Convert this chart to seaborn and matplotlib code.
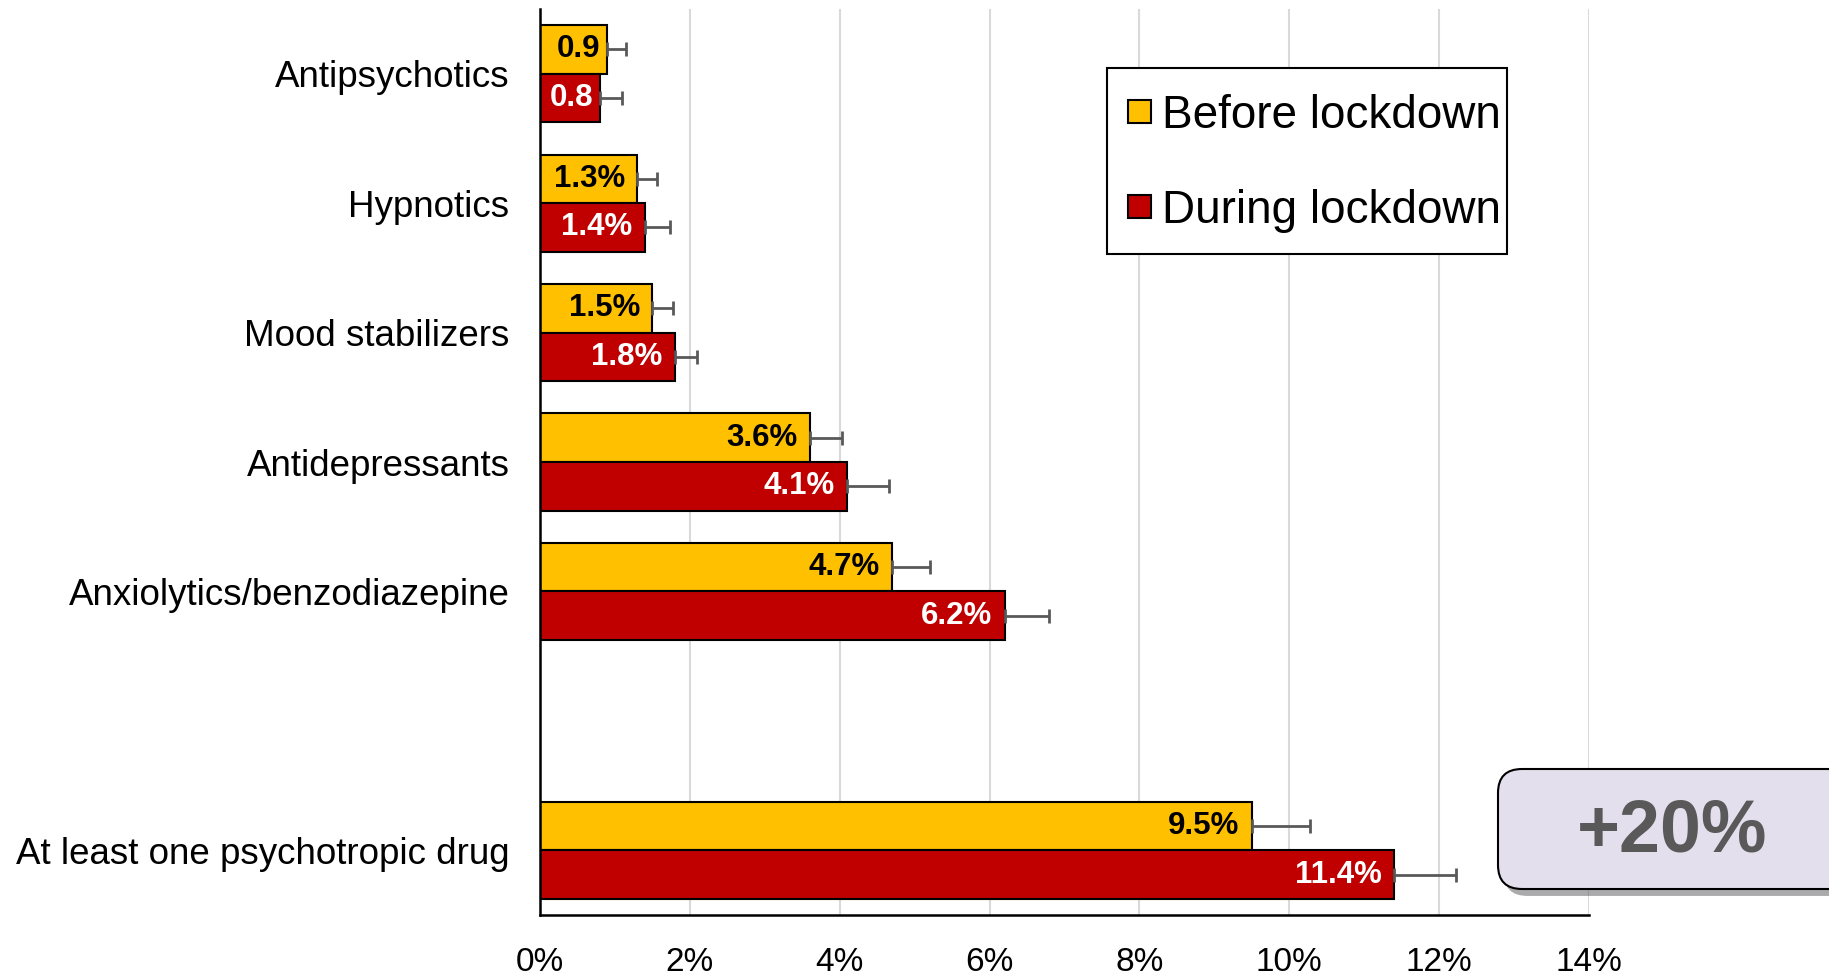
import pandas as pd
import matplotlib.pyplot as plt
import matplotlib.patheffects as pe
from matplotlib.patches import FancyBboxPatch, Rectangle
from matplotlib.legend_handler import HandlerPatch
from matplotlib.transforms import IdentityTransform
import seaborn as sns

categories = ["Antipsychotics", "Hypnotics", "Mood stabilizers", "Antidepressants",
              "Anxiolytics/benzodiazepine", "At least one psychotropic drug"]
before = [0.9, 1.3, 1.5, 3.6, 4.7, 9.5]
during = [0.8, 1.4, 1.8, 4.1, 6.2, 11.4]
err_before = [0.25, 0.26, 0.28, 0.43, 0.5, 0.78]
err_during = [0.29, 0.34, 0.29, 0.56, 0.59, 0.82]
labels_before = ["0.9", "1.3%", "1.5%", "3.6%", "4.7%", "9.5%"]
labels_during = ["0.8", "1.4%", "1.8%", "4.1%", "6.2%", "11.4%"]
periods = ["Before lockdown", "During lockdown"]
colors = ["#FFC000", "#C00000"]
xticks = [0, 2, 4, 6, 8, 10, 12, 14]

# empty slot between the single classes and the overall row
order = categories[:5] + [" "] + categories[5:]

df = pd.DataFrame({
    "drug": categories * 2,
    "period": [periods[0]] * 6 + [periods[1]] * 6,
    "pct": before + during,
    "err": err_before + err_during,
    "label": labels_before + labels_during,
})

sns.set_style("whitegrid")
plt.rcParams['font.family'] = ['Liberation Sans', 'DejaVu Sans']
plt.rcParams['text.color'] = 'black'

fig = plt.figure(figsize=(18.29, 9.75), dpi=100)
ax = fig.add_axes([540 / 1829, 1 - 915 / 975, 1049 / 1829, 906 / 975])

sns.barplot(data=df, y="drug", x="pct", hue="period", order=order,
            hue_order=periods, palette=colors, saturation=1, orient="h", width=0.75,
            errorbar=None, edgecolor="black", linewidth=1.5, ax=ax)

lookup = df.set_index(["drug", "period"])
bar_containers = list(ax.containers)
for h, cont in enumerate(bar_containers):
    for p in cont:
        if p is None:
            continue
        w = p.get_width()
        if not w or w != w:
            continue
        yc = p.get_y() + p.get_height() / 2
        drug = order[int(round(yc))]
        row = lookup.loc[(drug, periods[h])]
        ax.errorbar(w, yc, xerr=[[0], [row["err"]]], fmt="none",
                    ecolor="#595959", elinewidth=2, capsize=5, capthick=2, zorder=1)
        off = -5 if "%" not in row["label"] else -9
        ax.annotate(row["label"], (w, yc), xytext=(off, 0), textcoords="offset points",
                    ha="right", va="center", fontsize=22.5, fontweight="bold",
                    color="black" if h == 0 else "white")

ax.set_xlim(0, 14)
ax.set_ylim(6.5, -0.5)
ax.set_xticks(xticks)
ax.set_xticklabels([f"{t}%" for t in xticks])
ax.set_xlabel("")
ax.set_ylabel("")
ax.tick_params(axis="x", labelsize=24, length=0, pad=23, labelcolor="black")
ax.tick_params(axis="y", labelsize=26.5, length=0, pad=22, labelcolor="black")
ax.grid(axis="y", visible=False)
ax.grid(axis="x", color="#D9D9D9", linewidth=1.5)
ax.set_axisbelow(True)
for s in ["top", "right"]:
    ax.spines[s].set_visible(False)
for s in ["left", "bottom"]:
    ax.spines[s].set_color("black")
    ax.spines[s].set_linewidth(1.8)


def small_square(legend, orig_handle, xdescent, ydescent, width, height, fontsize):
    side = 0.5 * fontsize
    return Rectangle((width - side - xdescent, 0.36 * fontsize - side / 2), side, side)


handles, labels = ax.get_legend_handles_labels()
leg = ax.legend(handles, labels, loc="upper left",
                bbox_to_anchor=(1107 / 1829, 1 - 68 / 975),
                bbox_transform=fig.transFigure, fontsize=33, frameon=True,
                fancybox=False, framealpha=1, edgecolor="black",
                handler_map={Rectangle: HandlerPatch(patch_func=small_square)},
                handlelength=0.81, handleheight=2.2, handletextpad=0.23,
                labelspacing=0.4, borderpad=0.15, borderaxespad=0)
leg.get_frame().set_linewidth(1.5)
for txt in leg.get_texts():
    txt.set_color("black")
for hd in leg.legend_handles:
    hd.set_edgecolor("black")
    hd.set_linewidth(1.5)

# highlighted change box, partly cut by the right edge
box = FancyBboxPatch((1498, 975 - 889), 380, 120,
                     boxstyle="round,pad=0,rounding_size=24",
                     transform=IdentityTransform(), facecolor="#E4DFEC",
                     edgecolor="black", linewidth=1.5)
box.set_path_effects([pe.SimplePatchShadow(offset=(4, -5), alpha=0.45), pe.Normal()])
fig.patches.append(box)
fig.text(1672 / 1829, 1 - 832 / 975, "+20%", ha="center", va="center",
         fontsize=53, fontweight="bold", color="#595959")

fig.savefig("out.png", dpi=100)
